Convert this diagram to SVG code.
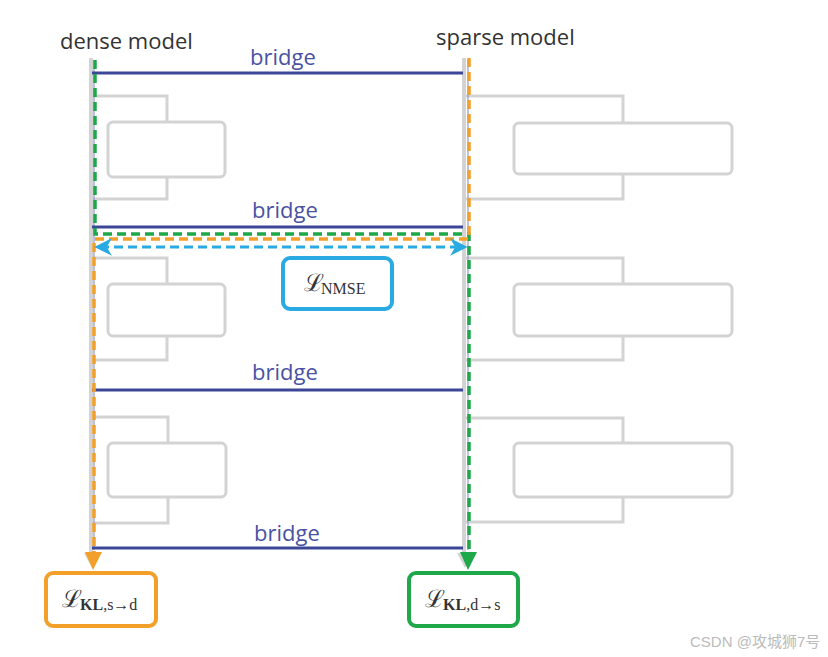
<svg xmlns="http://www.w3.org/2000/svg" width="828" height="657" viewBox="0 0 828 657">
<defs>
<style>
.lbl{font-family:"Open Sans","Liberation Sans",sans-serif;font-size:22px;fill:#333}
.br{font-family:"Open Sans","Liberation Sans",sans-serif;font-size:22px;fill:#4a52a3;text-anchor:middle}
.gl{fill:none;stroke:#d3d3d3;stroke-width:3}
.gb{fill:#fff;stroke:#d3d3d3;stroke-width:3}
.bridge{stroke:#3b4796;stroke-width:3}
.thin{stroke:#8e97d4;stroke-width:1.2}
.green{fill:none;stroke:#1fa84a;stroke-width:3.5;stroke-dasharray:9 5}
.orange{fill:none;stroke:#f3a02a;stroke-width:3.5;stroke-dasharray:9 5}
.cyan{fill:none;stroke:#2aaae2;stroke-width:3;stroke-dasharray:9 5}
.cal{font-family:"DejaVu Serif",serif;font-size:24px;fill:#333}
.sub{font-family:"Liberation Serif",serif;font-size:16px;fill:#333}
</style>
</defs>
<rect width="828" height="657" fill="#fff"/>
<g id="labels">
<text class="lbl" x="60" y="49">dense model</text>
<text class="lbl" x="436" y="45">sparse model</text>
</g>
<g id="dense-blocks">
<path class="gl" d="M92 96 H167 V122 M167 177 V199 H92"/>
<rect class="gb" x="108" y="122" width="117" height="55" rx="5"/>
<path class="gl" d="M92 258 H167 V284 M167 336 V360 H92"/>
<rect class="gb" x="108" y="284" width="117" height="52" rx="5"/>
<path class="gl" d="M92 417 H168 V443 M168 497 V523 H92"/>
<rect class="gb" x="108" y="443" width="118" height="54" rx="5"/>
</g>
<g id="sparse-blocks">
<path class="gl" d="M464 96 H623 V123 M623 174 V199 H464"/>
<rect class="gb" x="514" y="123" width="218" height="51" rx="5"/>
<path class="gl" d="M464 258 H623 V284 M623 336 V360 H464"/>
<rect class="gb" x="514" y="284" width="218" height="52" rx="5"/>
<path class="gl" d="M464 418 H623 V443 M623 497 V522 H464"/>
<rect class="gb" x="514" y="443" width="218" height="54" rx="5"/>
</g>
<g id="connectors">
<line x1="91" y1="58" x2="91" y2="556" stroke="#d3d3d3" stroke-width="4"/>
<line x1="464" y1="58" x2="464" y2="556" stroke="#d3d3d3" stroke-width="4"/>
<polygon points="84,553 100,553 92,568" fill="#d3d3d3"/>
<polygon points="457,553 473,553 465,568" fill="#d3d3d3"/>
<line class="thin" x1="94" y1="60" x2="94" y2="550"/>
<line class="thin" x1="468" y1="60" x2="468" y2="550"/>
<line class="bridge" x1="92" y1="73" x2="463" y2="73"/>
<line class="bridge" x1="92" y1="227" x2="463" y2="227"/>
<line class="bridge" x1="92" y1="390" x2="463" y2="390"/>
<line class="bridge" x1="92" y1="548" x2="463" y2="548"/>
<text class="br" x="283" y="65">bridge</text>
<text class="br" x="285" y="218">bridge</text>
<text class="br" x="285" y="380">bridge</text>
<text class="br" x="287" y="541">bridge</text>
<path class="green" d="M95 60 V234 H469 V556"/>
<path class="orange" d="M469 58 V239 H94 V556"/>
<polygon points="85,552 102,552 93,570" fill="#f3a02a"/>
<polygon points="460,552 477,552 468,570" fill="#1fa84a"/>
<line class="cyan" x1="100" y1="247" x2="462" y2="247"/>
<path d="M110 240 L96 247 L110 254 L106 247 Z" fill="#2aaae2" stroke="#2aaae2" stroke-width="1.5"/>
<path d="M452 240 L466 247 L452 254 L456 247 Z" fill="#2aaae2" stroke="#2aaae2" stroke-width="1.5"/>
</g>
<g id="nmse">
<rect x="283" y="258" width="109" height="51" rx="7" fill="#fff" stroke="#2aaae2" stroke-width="4"/>
<text class="cal" x="304" y="291">ℒ</text>
<text class="sub" x="321" y="294">NMSE</text>
</g>
<g id="kl-sd">
<rect x="46" y="573" width="110" height="53" rx="7" fill="#fff" stroke="#f3a02a" stroke-width="4"/>
<text class="cal" x="62" y="607">ℒ</text>
<text class="sub" x="80" y="610"><tspan font-weight="bold">KL</tspan>,s→d</text>
</g>
<g id="kl-ds">
<rect x="409" y="573" width="109" height="53" rx="7" fill="#fff" stroke="#1fa84a" stroke-width="4"/>
<text class="cal" x="425" y="607">ℒ</text>
<text class="sub" x="443" y="610"><tspan font-weight="bold">KL</tspan>,d→s</text>
</g>
<g id="watermark">
<text x="690" y="647" font-family="'Liberation Sans','Noto Sans CJK SC',sans-serif" font-size="15" fill="#bbb">CSDN @攻城狮7号</text>
</g>
</svg>
